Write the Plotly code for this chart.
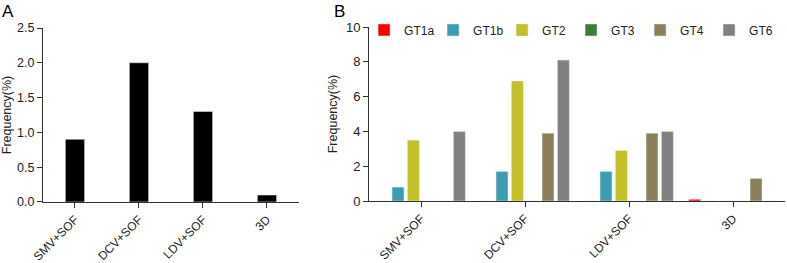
import plotly.graph_objects as go

categories = ["SMV+SOF", "DCV+SOF", "LDV+SOF", "3D"]
overall_freq = [0.9, 2.0, 1.3, 0.1]

genotypes = ["GT1a", "GT1b", "GT2", "GT3", "GT4", "GT6"]
gt_freq = {
    "GT1a": [0, 0, 0, 0.1],
    "GT1b": [0.8, 1.7, 1.7, 0],
    "GT2": [3.5, 6.9, 2.9, 0],
    "GT3": [0, 0, 0, 0],
    "GT4": [0, 3.9, 3.9, 1.3],
    "GT6": [4.0, 8.1, 4.0, 0],
}
gt_colors = {
    "GT1a": "#FF0000",
    "GT1b": "#3D9CB0",
    "GT2": "#C3C12A",
    "GT3": "#3B7D3B",
    "GT4": "#8B8059",
    "GT6": "#808080",
}

FONT = "Liberation Sans, Arial, sans-serif"
AX = "#333333"

fig = go.Figure()
fig.add_trace(go.Bar(x=categories, y=overall_freq, width=0.3, marker_color="#000000",
                     xaxis="x", yaxis="y", showlegend=False))
for g in genotypes:
    fig.add_trace(go.Bar(x=categories, y=gt_freq[g], name=g, marker_color=gt_colors[g],
                         xaxis="x2", yaxis="y2"))

axis_common = dict(showline=True, linecolor=AX, linewidth=1, ticks="outside", ticklen=5,
                   tickcolor=AX, showgrid=False, zeroline=False)
xtick_font = dict(family=FONT, size=12, color="#222")
ytick_font = dict(family=FONT, size=12.5, color="#222")

fig.update_layout(
    width=787, height=263,
    margin=dict(l=0, r=0, t=0, b=0, autoexpand=False),
    paper_bgcolor="white", plot_bgcolor="white",
    barmode="group", bargap=0.115, bargroupgap=0.22,
    font=dict(family=FONT, color="#222"),
    xaxis=dict(domain=[0.0546, 0.3799], anchor="y", tickangle=-45, range=[-0.5, 3.5],
               tickfont=xtick_font, **axis_common),
    yaxis=dict(domain=[0.232, 0.8935], anchor="x", range=[0, 2.5], tickvals=[0, 0.5, 1.0, 1.5, 2.0, 2.5],
               ticktext=["0.0", "0.5", "1.0", "1.5", "2.0", "2.5"], tickfont=ytick_font,
               title=dict(text="Frequency(%)", font=dict(family=FONT, size=12.5), standoff=2), **axis_common),
    xaxis2=dict(domain=[0.4689, 0.9975], anchor="y2", tickangle=-45, range=[-0.5, 3.5],
                tickfont=xtick_font, **axis_common),
    yaxis2=dict(domain=[0.2357, 0.8973], anchor="x2", range=[0, 10], tickvals=[0, 2, 4, 6, 8, 10],
                tickfont=dict(family=FONT, size=13, color="#222"),
                title=dict(text="Frequency(%)", font=dict(family=FONT, size=12.5), standoff=5), **axis_common),
    legend=dict(orientation="h", x=0.4626, xanchor="left", y=0.886, yanchor="middle",
                entrywidth=24, entrywidthmode="pixels",
                font=dict(family=FONT, size=12, color="#222"), bgcolor="rgba(0,0,0,0)"),
    annotations=[
        dict(text="A", x=0.0, y=1.0, xref="paper", yref="paper", xanchor="left", yanchor="top",
             showarrow=False, font=dict(family=FONT, size=17, color="#000")),
        dict(text="B", x=0.4219, y=1.0, xref="paper", yref="paper", xanchor="left", yanchor="top",
             showarrow=False, font=dict(family=FONT, size=17, color="#000")),
    ],
)

fig.write_html("out.html", config={"displayModeBar": False},
               post_script="document.body.style.margin='0px';")
